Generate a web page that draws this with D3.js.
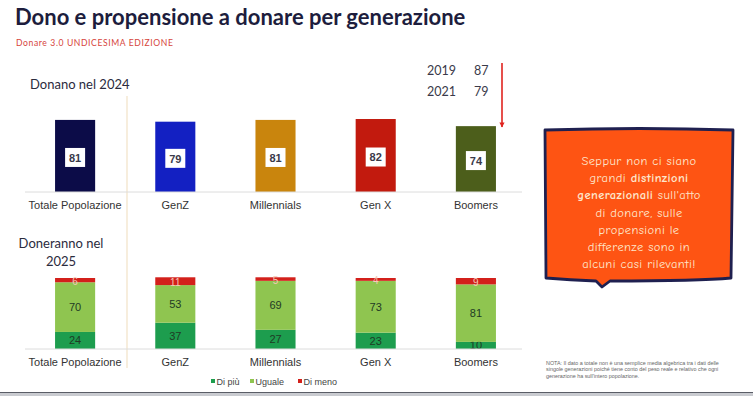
<!DOCTYPE html>
<html>
<head>
<meta charset="utf-8">
<script src="https://cdn.jsdelivr.net/npm/d3@7"></script>
<style>
  html, body { margin: 0; padding: 0; background: #fff; }
  svg { display: block; }
</style>
</head>
<body>
<div id="chart"></div>
<script>
// categorie (generazioni)
var categories = ["Totale Popolazione", "GenZ", "Millennials", "Gen X", "Boomers"];
// Donano nel 2024
var donano2024 = [81, 79, 81, 82, 74];
var barColors = ["#0c0c48", "#1320c2", "#c9850d", "#c21a0e", "#4c5e1b"];
// Doneranno nel 2025
var diPiu = [24, 37, 27, 23, 10];
var uguale = [70, 53, 69, 73, 81];
var diMeno = [6, 11, 5, 4, 9];
var seriesNames = ["Di più", "Uguale", "Di meno"];
var seriesColors = ["#1d9d4e", "#8fc550", "#d3201b"];
// storico Boomers
var storicoAnni = ["2019", "2021"];
var storicoValori = [87, 79];

var calloutLines = [
  [["Seppur non ci siano", false]],
  [["grandi ", false], ["distinzioni", true]],
  [["generazionali", true], [" sull'atto", false]],
  [["di donare, sulle", false]],
  [["propensioni le", false]],
  [["differenze sono in", false]],
  [["alcuni casi rilevanti!", false]]
];

var W = 753, H = 396;
var svg = d3.select("#chart").append("svg").attr("width", W).attr("height", H);

// titolo
svg.append("text").attr("x", 15).attr("y", 25)
  .attr("font-family", "Lato, 'Open Sans', sans-serif").attr("font-weight", 700)
  .attr("font-size", "22px").attr("fill", "#1d1d3d")
  .text("Dono e propensione a donare per generazione");
svg.append("text").attr("x", 16).attr("y", 46)
  .attr("font-family", "Lato, sans-serif").attr("font-size", "8.6px")
  .attr("fill", "#d6453c").attr("letter-spacing", "0.6px")
  .text("Donare 3.0 UNDICESIMA EDIZIONE");

// separatore verticale
svg.append("line").attr("x1", 127).attr("x2", 127).attr("y1", 96).attr("y2", 368)
  .attr("stroke", "#f2e2c6").attr("stroke-width", 1.2);

var x = d3.scaleBand().domain(categories).range([25, 526]).paddingInner(0.6).paddingOuter(0.3);

// --- grafico superiore ---
var yTop = d3.scaleLinear().domain([0, 100]).range([192, 103]);
var topData = categories.map(function (c, i) { return { cat: c, v: donano2024[i], col: barColors[i] }; });

svg.append("text").attr("x", 30).attr("y", 89)
  .attr("font-family", "Lato, sans-serif").attr("font-size", "13px").attr("fill", "#2b2b3d")
  .text("Donano nel 2024");

var topBars = svg.append("g");
topBars.selectAll("rect").data(topData).enter().append("rect")
  .attr("x", function (d) { return x(d.cat); })
  .attr("y", function (d) { return yTop(d.v); })
  .attr("width", x.bandwidth())
  .attr("height", function (d) { return yTop(0) - yTop(d.v); })
  .attr("fill", function (d) { return d.col; });

var lbl = topBars.selectAll("g.lbl").data(topData).enter().append("g")
  .attr("transform", function (d) {
    return "translate(" + (x(d.cat) + x.bandwidth() / 2) + "," + ((yTop(d.v) + yTop(0)) / 2 + 2) + ")";
  });
lbl.append("rect").attr("x", -10).attr("y", -10).attr("width", 20).attr("height", 19).attr("fill", "#fff");
lbl.append("text").attr("text-anchor", "middle").attr("dy", "0.35em")
  .attr("font-family", "'Liberation Sans', Arial, sans-serif").attr("font-weight", 700)
  .attr("font-size", "11px").attr("fill", "#3a3a4a")
  .text(function (d) { return d.v; });

var axisTop = svg.append("g").attr("transform", "translate(0," + yTop(0) + ")")
  .call(d3.axisBottom(x).tickSize(0).tickPadding(9));
axisTop.select(".domain").attr("stroke", "#dcdcdc").attr("d", "M25,0H522");
axisTop.selectAll("text").attr("font-family", "'Liberation Sans', Arial, sans-serif")
  .attr("font-size", "11px").attr("fill", "#333");

// storico
var storico = svg.append("g").attr("font-family", "Lato, sans-serif").attr("font-size", "12.5px").attr("fill", "#3a3a4a");
storicoAnni.forEach(function (a, i) {
  storico.append("text").attr("x", 427).attr("y", 75 + i * 21).text(a);
  storico.append("text").attr("x", 474).attr("y", 75 + i * 21).text(storicoValori[i]);
});
svg.append("defs").append("marker").attr("id", "arr").attr("viewBox", "0 0 10 10")
  .attr("refX", 9).attr("refY", 5).attr("markerWidth", 3.2).attr("markerHeight", 3.2)
  .attr("orient", "auto").append("path").attr("d", "M0,0L10,5L0,10z").attr("fill", "#e0241f");
svg.append("line").attr("x1", 502).attr("x2", 502).attr("y1", 63).attr("y2", 127)
  .attr("stroke", "#e0241f").attr("stroke-width", 1.6).attr("marker-end", "url(#arr)");

// --- grafico inferiore ---
var yBot = d3.scaleLinear().domain([0, 100]).range([349, 278]);
svg.append("text").attr("font-family", "Lato, sans-serif").attr("font-size", "13px").attr("fill", "#2b2b3d")
  .attr("text-anchor", "middle")
  .selectAll("tspan").data(["Doneranno nel", "2025"]).enter().append("tspan")
  .attr("x", 61).attr("y", function (d, i) { return 248 + i * 18; }).text(function (d) { return d; });

var rows = categories.map(function (c, i) { return { cat: c, "Di più": diPiu[i], "Uguale": uguale[i], "Di meno": diMeno[i] }; });
var stack = d3.stack().keys(seriesNames)(rows);
var color = d3.scaleOrdinal().domain(seriesNames).range(seriesColors);

var layers = svg.append("g").selectAll("g").data(stack).enter().append("g")
  .attr("fill", function (d) { return color(d.key); });
layers.selectAll("rect").data(function (d) { return d; }).enter().append("rect")
  .attr("x", function (d) { return x(d.data.cat); })
  .attr("y", function (d) { return yBot(d[1]); })
  .attr("width", x.bandwidth())
  .attr("height", function (d) { return yBot(d[0]) - yBot(d[1]); });

layers.each(function (s) {
  var red = s.key === "Di meno";
  d3.select(this).selectAll("text").data(s).enter().append("text")
    .attr("x", function (d) { return x(d.data.cat) + x.bandwidth() / 2; })
    .attr("y", function (d) { return (yBot(d[0]) + yBot(d[1])) / 2; })
    .attr("dy", red ? "0.45em" : "0.35em")
    .attr("text-anchor", "middle")
    .attr("font-family", "'Liberation Sans', Arial, sans-serif")
    .attr("font-size", red ? "10px" : "11px")
    .attr("fill", red ? "#f6c9b8" : "#1f3b25")
    .text(function (d) { return d.data[s.key]; });
});

var axisBot = svg.append("g").attr("transform", "translate(0," + yBot(0) + ")")
  .call(d3.axisBottom(x).tickSize(0).tickPadding(9));
axisBot.select(".domain").attr("stroke", "#dcdcdc").attr("d", "M25,0H522");
axisBot.selectAll("text").attr("font-family", "'Liberation Sans', Arial, sans-serif")
  .attr("font-size", "11px").attr("fill", "#333");

// legenda
var legX = [211, 250, 298];
var leg = svg.append("g").attr("font-family", "'Liberation Sans', Arial, sans-serif").attr("font-size", "9px");
seriesNames.forEach(function (n, i) {
  leg.append("rect").attr("x", legX[i]).attr("y", 379).attr("width", 4).attr("height", 4).attr("fill", seriesColors[i]);
  leg.append("text").attr("x", legX[i] + 5.5).attr("y", 384.5).attr("fill", "#444").text(n);
});

// riquadro arancione
var box = svg.append("g");
box.append("path")
  .attr("d", "M545,130 Q640,127 733,130 L731,278 Q700,281 610,281 L602,287 L596,281 Q570,280 546,278 Z")
  .attr("fill", "#fe5413").attr("stroke", "#1f2050").attr("stroke-width", 2.8).attr("stroke-linejoin", "round");
var ct = box.append("g").attr("font-family", "'Comic Neue', 'Noto Sans', sans-serif")
  .attr("font-size", "12.5px").attr("fill", "#fde6cc").attr("text-anchor", "middle").attr("letter-spacing", "0.4px");
calloutLines.forEach(function (line, i) {
  var t = ct.append("text").attr("x", 639).attr("y", 165 + i * 17.2);
  line.forEach(function (seg) {
    t.append("tspan").attr("font-weight", seg[1] ? 700 : 400).text(seg[0]);
  });
});

// nota
var nota = ["NOTA: Il dato a totale non è una semplice media algebrica tra i dati delle",
  "singole generazioni poiché tiene conto del peso reale e relativo che ogni",
  "generazione ha sull'intero popolazione."];
svg.append("g").attr("font-family", "'Liberation Sans', Arial, sans-serif").attr("font-size", "5.4px").attr("fill", "#666")
  .selectAll("text").data(nota).enter().append("text")
  .attr("x", 546).attr("y", function (d, i) { return 365 + i * 6.4; }).text(function (d) { return d; });

// bordo inferiore
svg.append("rect").attr("x", 0).attr("y", 392).attr("width", W).attr("height", 4).attr("fill", "#c9cbd0");
svg.append("line").attr("x1", 0).attr("x2", W).attr("y1", 392.5).attr("y2", 392.5).attr("stroke", "#5a5d66").attr("stroke-width", 1);
</script>
</body>
</html>
